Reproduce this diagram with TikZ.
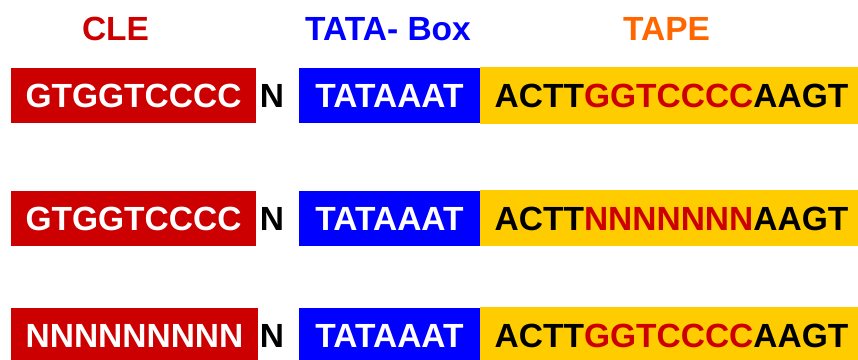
\documentclass[tikz,border=0pt]{standalone}
\usepackage{fontspec}
\setmainfont{Liberation Sans}
\definecolor{dnared}{HTML}{CC0000}
\definecolor{dnablue}{HTML}{0000FF}
\definecolor{dnayellow}{HTML}{FFCC00}
\definecolor{dnaorange}{HTML}{FF6600}
\tikzset{
  seqfont/.style={font=\fontsize{33.5}{40}\selectfont\bfseries, text height=24pt, text depth=0pt, inner sep=0pt},
  redbox/.style={seqfont, fill=dnared, text=white, minimum width=245pt, minimum height=55pt},
  bluebox/.style={seqfont, fill=dnablue, text=white, minimum width=181pt, minimum height=55pt},
  yellowbox/.style={seqfont, fill=dnayellow, text=black, minimum width=383pt, minimum height=57pt},
  spacer/.style={seqfont, text=black},
  label/.style={seqfont}
}
\begin{document}
\begin{tikzpicture}[x=1pt,y=1pt]
\useasboundingbox (0,0) rectangle (858,359);
% labels
\node[label, text=dnared] (lcle) at (115.5,330.5) {CLE};
\node[label, text=dnablue] (ltata) at (388,330.5) {TATA- Box};
\node[label, text=dnaorange] (ltape) at (666.5,330.5) {TAPE};
% row 1
\node[redbox] (r1) at (133.5,263) {GTGGTCCCC};
\node[spacer] (n1) at (272,263) {N};
\node[bluebox] (b1) at (389.5,263) {TATAAAT};
\node[yellowbox] (y1) at (671.5,263.5) {ACTT\textcolor{dnared}{GGTCCCC}AAGT};
% row 2
\node[redbox] (r2) at (133.5,140.5) {GTGGTCCCC};
\node[spacer] (n2) at (272,140.5) {N};
\node[bluebox] (b2) at (389.5,140.5) {TATAAAT};
\node[yellowbox, minimum height=56pt] (y2) at (671.5,141) {ACTT\textcolor{dnared}{NNNNNNN}AAGT};
% row 3
\node[redbox, minimum width=247pt] (r3) at (134.5,23.5) {NNNNNNNNN};
\node[spacer] (n3) at (272,23.5) {N};
\node[bluebox] (b3) at (389.5,23.5) {TATAAAT};
\node[yellowbox, minimum height=56pt] (y3) at (671.5,24) {ACTT\textcolor{dnared}{GGTCCCC}AAGT};
\end{tikzpicture}
\end{document}
